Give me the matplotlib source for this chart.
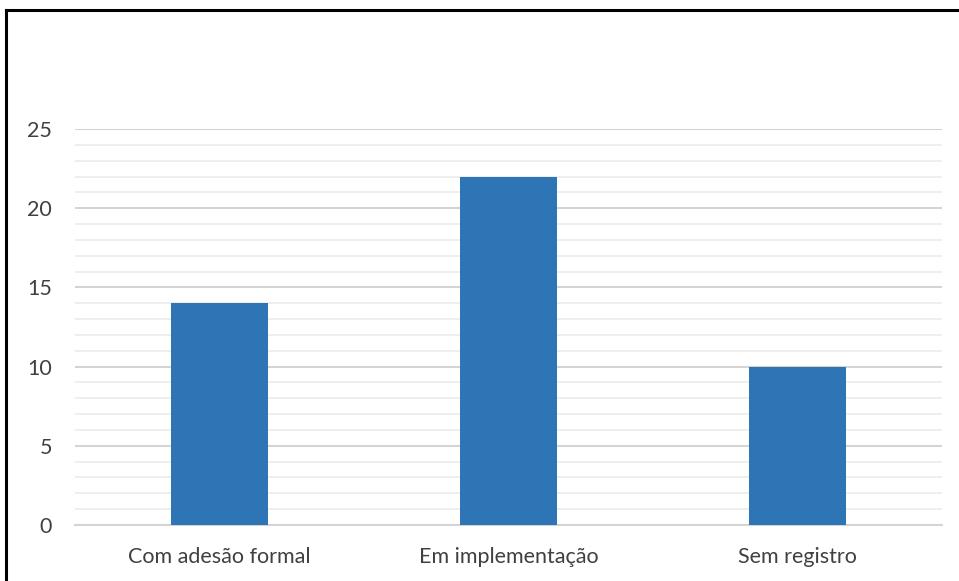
import matplotlib.pyplot as plt
from matplotlib.ticker import MultipleLocator

# Data
categories = ['Com adesão formal', 'Em implementação', 'Sem registro']
values = [14, 22, 10]

plt.rcParams['font.family'] = ['Lato', 'DejaVu Sans']

fig = plt.figure(figsize=(9.59, 5.81), dpi=100, facecolor='white')
ax = fig.add_axes([75 / 959, 1 - 525 / 581, 867 / 959, (525 - 129) / 581])

x = range(len(categories))
ax.bar(x, values, width=0.335, color='#2e75b6', zorder=3)

ax.set_xlim(-0.5, len(categories) - 0.5)
ax.set_ylim(0, 25)
ax.yaxis.set_major_locator(MultipleLocator(5))
ax.yaxis.set_minor_locator(MultipleLocator(1))
ax.set_xticks(list(x))
ax.set_xticklabels(categories)

# gridlines
ax.grid(axis='y', which='major', color='#d4d4d4', linewidth=1.5, zorder=0)
ax.grid(axis='y', which='minor', color='#ededed', linewidth=1.3, zorder=0)
ax.set_axisbelow(True)

for s in ['top', 'right', 'left']:
    ax.spines[s].set_visible(False)
ax.spines['bottom'].set_color('#d4d4d4')
ax.spines['bottom'].set_linewidth(1.5)

ax.tick_params(axis='both', which='both', length=0, colors='#404040', labelsize=15.5)
ax.tick_params(axis='y', pad=16.5)
ax.tick_params(axis='x', pad=16)

# outer frame (top and left edges)
fig.add_artist(plt.Line2D([6 / 959, 1], [1 - 10 / 581, 1 - 10 / 581],
                          transform=fig.transFigure, color='black', linewidth=2.2))
fig.add_artist(plt.Line2D([6 / 959, 6 / 959], [0, 1 - 10 / 581],
                          transform=fig.transFigure, color='black', linewidth=2.2))

plt.savefig('out.png', dpi=100, facecolor='white')
plt.close()
